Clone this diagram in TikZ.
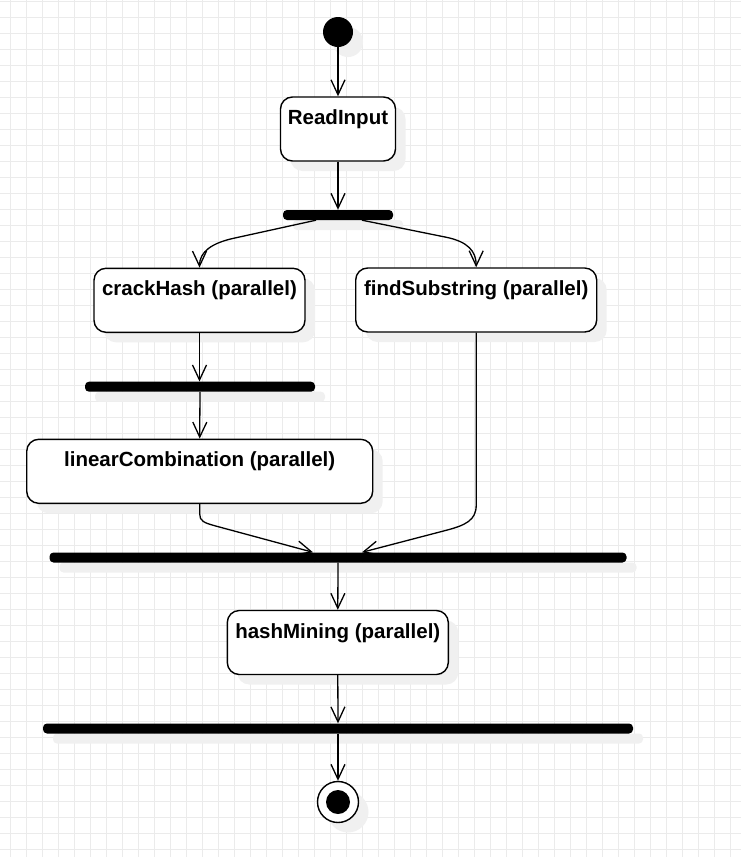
\documentclass[tikz,border=0pt]{standalone}
\usepackage{fontspec}
\setmainfont{Liberation Sans}
\usetikzlibrary{positioning, arrows.meta, shadows}

\begin{document}
\begin{tikzpicture}[x=1pt, y=-1pt,
    gridline/.style={draw=black!8, line width=1pt},
    softshadow/.style={drop shadow={shadow xshift=10pt, shadow yshift=-10pt, fill=black!6, opacity=1}},
    activity/.style={draw, line width=1.4pt, rounded corners=12pt, fill=white, softshadow, font=\fontsize{20.5}{24}\selectfont\bfseries, minimum height=64pt, text height=19.6pt, text depth=28.4pt, inner ysep=8pt, inner xsep=0pt},
    syncbar/.style={fill=black, rounded corners=4pt, minimum height=10pt, inner sep=0pt, softshadow},
    startdot/.style={circle, fill=black, minimum size=30pt, inner sep=0pt, softshadow},
    enddot/.style={circle, draw, line width=1.4pt, fill=white, minimum size=41pt, inner sep=0pt, softshadow},
    flow/.style={-{Straight Barb[length=15pt, width=14pt]}, line width=1.3pt}
  ]
  \useasboundingbox (0,0) rectangle (741,857);
  \fill[white] (0,0) rectangle (741,857);
  \foreach \gx in {10.3,26.3,...,741} \draw[gridline] (\gx,0) -- (\gx,857);
  \foreach \gy in {1.3,17.3,...,857} \draw[gridline] (0,\gy) -- (741,\gy);

  \node[startdot]                          (start) at (338,32)      {};
  \node[activity, minimum width=115pt]     (read)  at (338,129)     {ReadInput};
  \node[syncbar, minimum width=110pt]      (fork)  at (338,215)     {};
  \node[activity, minimum width=211pt]     (crack) at (199.5,300.3) {crackHash (parallel)};
  \node[activity, minimum width=241pt]     (find)  at (476.2,300)   {findSubstring (parallel)};
  \node[syncbar, minimum width=230pt]      (sync)  at (200,386.7)   {};
  \node[activity, minimum width=346pt]     (lin)   at (199.7,471.3) {linearCombination (parallel)};
  \node[syncbar, minimum width=577pt]      (join)  at (338,557.5)   {};
  \node[activity, minimum width=221pt]     (mine)  at (337.8,642.5) {hashMining (parallel)};
  \node[syncbar, minimum width=590pt]      (merge) at (338,728.5)   {};
  \node[enddot]                            (stop)  at (338,802)     {};
  \node[circle, fill=black, minimum size=24pt, inner sep=0pt] (stopdot) at (stop) {};

  \draw[flow] (start) -- (read);
  \draw[flow] (read)  -- (fork);
  \draw[flow] ([xshift=-22pt]fork.south) -- ++(-82,18) .. controls +(-22,4.8) and +(0,-16) .. (crack.north);
  \draw[flow] ([xshift=24pt]fork.south) -- ++(84,17) .. controls +(22,4.5) and +(0,-16) .. (find.north);
  \draw[flow] (crack.south) -- (crack.south |- sync.north);
  \draw[flow] (sync.south)  -- (lin.north);
  \draw[flow] (lin.south) -- ++(0,10) .. controls +(0,7) and +(-12,-3.3) .. ++(16,12) -- ([xshift=-25pt]join.north);
  \draw[flow] (find.south) -- ++(0,172.6) .. controls +(0,15) and +(19,-5) .. ++(-30,25) -- ([xshift=24pt]join.north);
  \draw[flow] (join.south)  -- (mine.north);
  \draw[flow] (mine.south)  -- (merge.north);
  \draw[flow] (merge.south) -- (stop.north);
\end{tikzpicture}
\end{document}
